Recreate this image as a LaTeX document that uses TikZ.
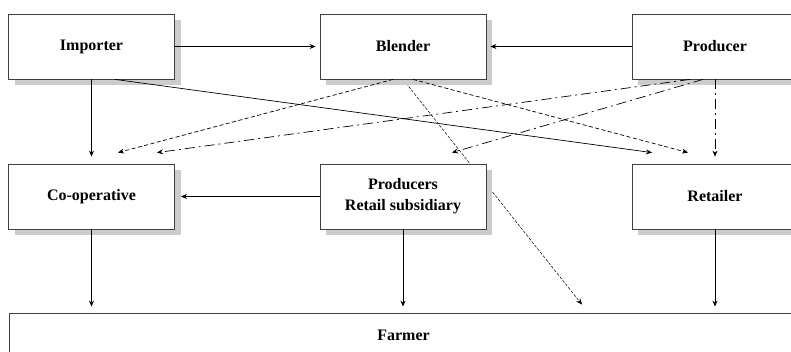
\documentclass[tikz,border=0pt]{standalone}
\usepackage{fontspec}
\setmainfont{Liberation Serif}
\usetikzlibrary{arrows.meta,shadows,backgrounds}

\begin{document}
\begin{tikzpicture}[x=1pt, y=-1pt,
  box/.style={draw=black!75, line width=0.8pt, fill=white, minimum width=166pt, minimum height=65pt,
    align=center, font=\bfseries\fontsize{16}{21}\selectfont,
    drop shadow={shadow xshift=6pt, shadow yshift=-6pt, fill=black!20, opacity=1}},
  flow/.style={line width=0.7pt, -{Stealth[length=6pt,width=5pt]}},
  dsh/.style={flow, dash pattern=on 4pt off 2.5pt},
  dshdot/.style={flow, dash pattern=on 10pt off 4pt on 2pt off 4pt},
  fine/.style={flow, line width=0.5pt, dash pattern=on 3pt off 1.5pt}]
\useasboundingbox (0,0) rectangle (791,352);

% top row
\node[box] (imp) at (91.5,46.5) {Importer};
\node[box] (bld) at (403,46.5) {Blender};
\node[box] (pro) at (715,46.5) {Producer};
% middle row
\node[box] (cop) at (91.5,196.5) {Co-operative};
\node[box] (prs) at (403,196.5) {Producers\\Retail subsidiary};
\node[box] (ret) at (715,196.5) {Retailer};
% bottom
\node[draw=black!75, line width=0.8pt, fill=white, minimum width=789pt, minimum height=45pt,
  font=\bfseries\fontsize{16}{21}\selectfont] (frm) at (403.5,335.5) {Farmer};

% solid flows
\draw[flow, shorten >=4pt] (imp) -- (bld);
\draw[flow] (pro) -- ([xshift=4pt]bld.east);
\draw[flow] (prs) -- ([xshift=6pt]cop.east);
\draw[flow, shorten >=7pt] (imp) -- (cop);
\draw[flow] ([xshift=23.5pt]imp.south) -- ([xshift=-63pt,yshift=11pt]ret.north); % importer to retailer
\foreach \n in {cop,prs,ret}
  \draw[flow, shorten >=6pt] (\n.south) -- (\n.south |- frm.north);

% dashed flows
\draw[dsh] ([xshift=-10pt]bld.south) -- ([xshift=26.5pt,yshift=11pt]cop.north);
\draw[dsh] ([xshift=10pt]bld.south) -- ([xshift=-27pt,yshift=11pt]ret.north);
\draw[dshdot] ([xshift=-25pt]pro.south) -- ([xshift=65.5pt,yshift=11pt]cop.north);
\draw[dshdot] ([xshift=-12pt]pro.south) -- ([xshift=49pt,yshift=11pt]prs.north);
\draw[dshdot, shorten >=7pt] (pro) -- (ret);
\begin{pgfonlayer}{background}
\draw[fine] (bld.south) -- ([xshift=178.5pt,yshift=8pt]frm.north); % blender to farmer
\end{pgfonlayer}
\end{tikzpicture}
\end{document}
